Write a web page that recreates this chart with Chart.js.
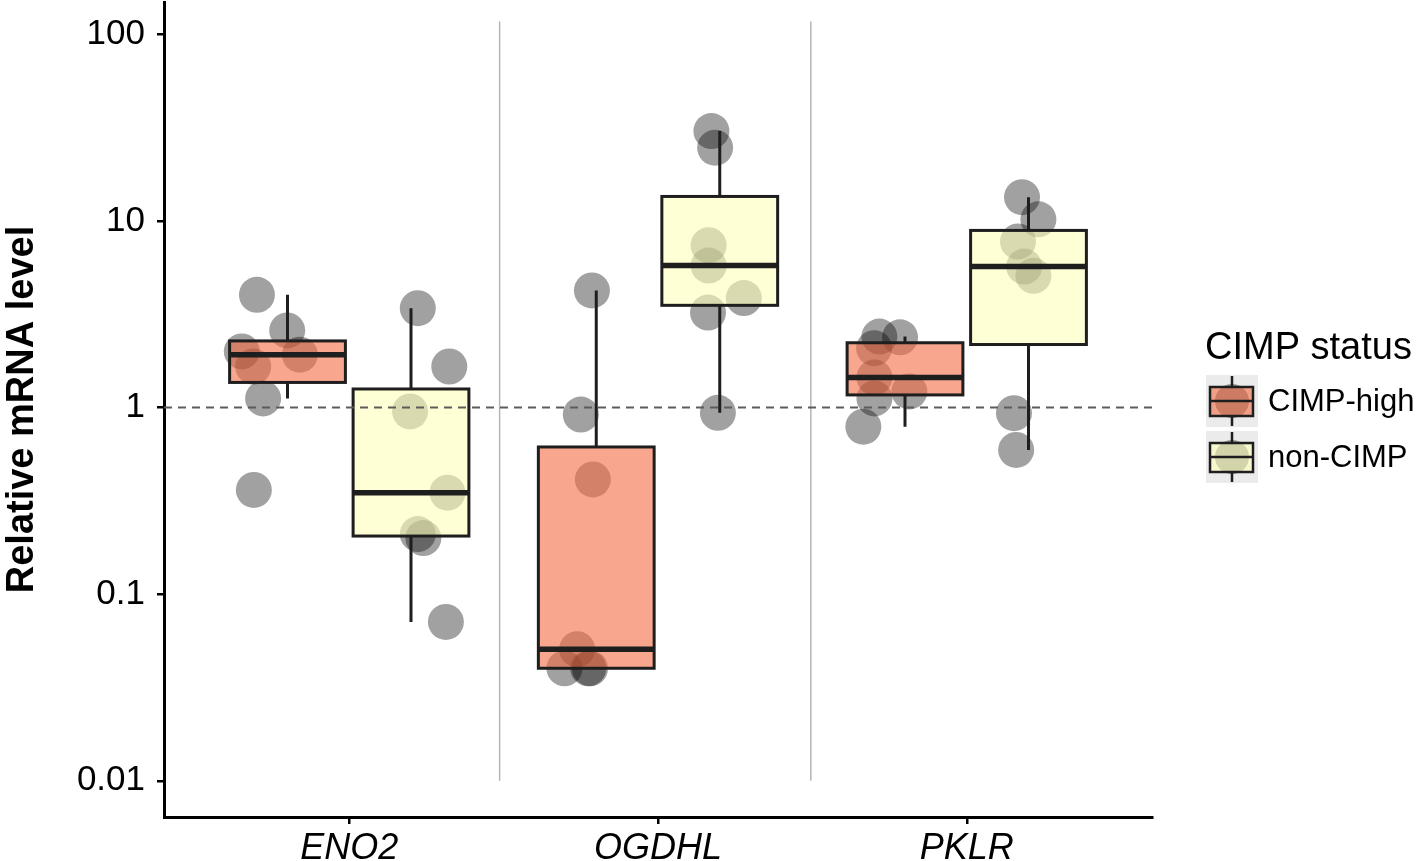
<!DOCTYPE html>
<html><head><meta charset="utf-8">
<script src="https://cdn.jsdelivr.net/npm/chart.js@4/dist/chart.umd.min.js"></script>
<style>html,body{margin:0;padding:0;background:#fff;}#wrap{width:1418px;height:861px;position:relative;}</style>
</head><body><div id="wrap"><canvas id="c" width="1418" height="861"></canvas></div>
<script>
// ---- data ----
const genes = ['ENO2', 'OGDHL', 'PKLR'];
const groups = ['CIMP-high', 'non-CIMP'];
const legendTitle = 'CIMP status';
const yTitle = 'Relative mRNA level';
const yTicks = [0.01, 0.1, 1, 10, 100];
const yTickLabels = ['0.01', '0.1', '1', '10', '100'];
const referenceLevel = 1;
const separators = [1.487, 2.495];

// relative mRNA level per sample (7 samples per gene and group)
const eno2High  = [4.02, 2.59, 2.0, 1.92, 1.66, 1.12, 0.362];
const eno2Non   = [3.41, 1.66, 0.953, 0.35, 0.21, 0.20, 0.071];
const ogdhlHigh = [4.24, 0.918, 0.412, 0.0507, 0.0401, 0.0401, 0.0401];
const ogdhlNon  = [30.3, 24.7, 7.41, 5.77, 3.23, 3.86, 0.937];
const pklrHigh  = [2.40, 2.38, 2.08, 1.45, 1.22, 1.12, 0.79];
const pklrNon   = [13.4, 10.2, 7.76, 5.70, 5.08, 0.933, 0.593];

// horizontal jitter of each sample (category units)
const eno2HighJit  = [-0.099, -0.001, -0.148, 0.040, -0.111, -0.079, -0.109];
const eno2NonJit   = [0.022, 0.124, -0.003, 0.118, 0.022, 0.040, 0.113];
const ogdhlHighJit = [-0.014, -0.050, -0.011, -0.062, -0.103, -0.020, -0.026];
const ogdhlNonJit  = [-0.027, -0.015, -0.036, -0.036, -0.038, 0.078, -0.006];
const pklrHighJit  = [-0.083, -0.016, -0.100, -0.099, 0.014, -0.099, -0.135];
const pklrNonJit   = [-0.021, 0.032, -0.034, -0.014, 0.016, -0.047, -0.040];

const highValues = [eno2High, ogdhlHigh, pklrHigh];
const nonValues  = [eno2Non, ogdhlNon, pklrNon];
const highJit = [eno2HighJit, ogdhlHighJit, pklrHighJit];
const nonJit  = [eno2NonJit, ogdhlNonJit, pklrNonJit];

// ---- styling ----
const FONT = 'Liberation Sans, Arial, Helvetica, sans-serif';
const DODGE = 0.2, BOX_W = 0.375;
const fills = ['rgba(244,109,67,0.6)', 'rgba(255,255,185,0.6)'];
const POINT = 'rgba(0,0,0,0.37)';
const LINE = '#1e1e1e';

function pts(valsList, jitList, side) {
  const out = [];
  valsList.forEach((vals, gi) => {
    vals.forEach((v, i) => out.push({x: gi + 1 + side * DODGE + jitList[gi][i], y: v}));
  });
  return out;
}

function quant(sorted, p) {
  const h = (sorted.length - 1) * p, lo = Math.floor(h), hi = Math.ceil(h);
  return sorted[lo] + (sorted[hi] - sorted[lo]) * (h - lo);
}
function boxStats(vals) {
  const l = vals.map(v => Math.log10(v)).sort((a, b) => a - b);
  const q1 = quant(l, 0.25), med = quant(l, 0.5), q3 = quant(l, 0.75);
  const iqr = q3 - q1;
  const inside = l.filter(v => v >= q1 - 1.5 * iqr && v <= q3 + 1.5 * iqr);
  const p = v => Math.pow(10, v);
  return {q1: p(q1), med: p(med), q3: p(q3), lo: p(Math.min(...inside)), hi: p(Math.max(...inside))};
}

const boxPlugin = {
  id: 'boxes',
  beforeDatasetsDraw(chart) {
    const {ctx, scales: {x, y}} = chart;
    ctx.save();
    ctx.strokeStyle = '#b5b5b5';
    ctx.lineWidth = 1.5;
    separators.forEach(s => {
      const px = x.getPixelForValue(s);
      ctx.beginPath();
      ctx.moveTo(px, y.getPixelForValue(0.01));
      ctx.lineTo(px, y.getPixelForValue(117));
      ctx.stroke();
    });
    ctx.restore();
  },
  afterDatasetsDraw(chart) {
    const {ctx, chartArea, scales: {x, y}} = chart;
    ctx.save();
    [highValues, nonValues].forEach((list, g) => {
      const side = g === 0 ? -1 : 1;
      list.forEach((vals, gi) => {
        const s = boxStats(vals);
        const c = gi + 1 + side * DODGE;
        const xl = x.getPixelForValue(c - BOX_W / 2), xr = x.getPixelForValue(c + BOX_W / 2);
        const xc = x.getPixelForValue(c);
        const yq1 = y.getPixelForValue(s.q1), yq3 = y.getPixelForValue(s.q3);
        const ym = y.getPixelForValue(s.med);
        ctx.lineCap = 'butt';
        ctx.strokeStyle = LINE;
        ctx.lineWidth = 3;
        ctx.beginPath();
        ctx.moveTo(xc, y.getPixelForValue(s.hi)); ctx.lineTo(xc, yq3);
        ctx.moveTo(xc, yq1); ctx.lineTo(xc, y.getPixelForValue(s.lo));
        ctx.stroke();
        ctx.fillStyle = fills[g];
        ctx.fillRect(xl, yq3, xr - xl, yq1 - yq3);
        ctx.strokeRect(xl, yq3, xr - xl, yq1 - yq3);
        ctx.lineWidth = 5.5;
        ctx.beginPath();
        ctx.moveTo(xl, ym); ctx.lineTo(xr, ym);
        ctx.stroke();
      });
    });
    // reference dashed line
    const yr = y.getPixelForValue(referenceLevel);
    ctx.strokeStyle = '#5c5c5c';
    ctx.lineWidth = 2;
    ctx.setLineDash([8, 6]);
    ctx.beginPath();
    ctx.moveTo(chartArea.left, yr); ctx.lineTo(chartArea.right, yr);
    ctx.stroke();
    ctx.restore();
  },
  afterDraw(chart) {
    const ctx = chart.ctx;
    ctx.save();
    ctx.fillStyle = '#000';
    ctx.font = '38px ' + FONT;
    ctx.textBaseline = 'alphabetic';
    ctx.textAlign = 'left';
    ctx.fillText(legendTitle, 1205, 359);
    groups.forEach((name, g) => {
      const top = 375 + g * 56;
      ctx.fillStyle = '#ebebeb';
      ctx.fillRect(1206, top, 52, 52);
      const cx = 1232, cy = top + 26;
      ctx.fillStyle = POINT;
      ctx.beginPath(); ctx.arc(cx, cy, 17, 0, Math.PI * 2); ctx.fill();
      ctx.strokeStyle = LINE;
      ctx.lineWidth = 2.5;
      ctx.beginPath();
      ctx.moveTo(cx, top + 1); ctx.lineTo(cx, top + 12);
      ctx.moveTo(cx, top + 41); ctx.lineTo(cx, top + 51);
      ctx.stroke();
      ctx.fillStyle = fills[g];
      ctx.fillRect(1210, top + 12, 43, 29);
      ctx.strokeRect(1210, top + 12, 43, 29);
      ctx.beginPath(); ctx.moveTo(1210, cy); ctx.lineTo(1253, cy); ctx.stroke();
      ctx.fillStyle = '#000';
      ctx.font = '31px ' + FONT;
      ctx.textBaseline = 'middle';
      ctx.fillText(name, 1268, cy + 1);
    });
    ctx.restore();
  }
};

new Chart(document.getElementById('c'), {
  type: 'scatter',
  data: {
    datasets: [
      {label: groups[0], data: pts(highValues, highJit, -1), pointRadius: 18, pointHoverRadius: 18,
       backgroundColor: POINT, borderWidth: 0},
      {label: groups[1], data: pts(nonValues, nonJit, 1), pointRadius: 18, pointHoverRadius: 18,
       backgroundColor: POINT, borderWidth: 0}
    ]
  },
  options: {
    responsive: false, animation: false, devicePixelRatio: 1,
    layout: {autoPadding: false, padding: {top: 2, right: 266, left: 0, bottom: 0}},
    plugins: {legend: {display: false}, tooltip: {enabled: false}},
    scales: {
      x: {
        type: 'linear', min: 0.4, max: 3.6,
        afterBuildTicks(s) { s.ticks = genes.map((g, i) => ({value: i + 1})); },
        afterFit(s) { s.height = 44; s.paddingLeft = 0; s.paddingRight = 0; },
        ticks: {callback: (v) => genes[Math.round(v) - 1], color: '#000', padding: 3,
                font: {family: FONT, size: 36, style: 'italic'}, maxRotation: 0, autoSkip: false},
        grid: {drawOnChartArea: false, drawTicks: true, tickLength: 7, color: '#000', lineWidth: 2.5},
        border: {display: true, color: '#000', width: 3}
      },
      y: {
        type: 'logarithmic', min: 0.0064, max: 149,
        afterBuildTicks(s) { s.ticks = yTicks.map(v => ({value: v})); },
        afterFit(s) { s.width = 164; s.paddingTop = 0; s.paddingBottom = 0; },
        ticks: {callback: (v, i) => yTickLabels[i], color: '#000', padding: 12,
                font: {family: FONT, size: 35}, autoSkip: false},
        grid: {drawOnChartArea: false, drawTicks: true, tickLength: 7, color: '#000', lineWidth: 2.5},
        border: {display: true, color: '#000', width: 3},
        title: {display: true, text: yTitle, color: '#000', padding: {top: 0, bottom: 0},
                font: {family: FONT, size: 38, weight: 'bold'}}
      }
    }
  },
  plugins: [boxPlugin]
});
</script></body></html>
